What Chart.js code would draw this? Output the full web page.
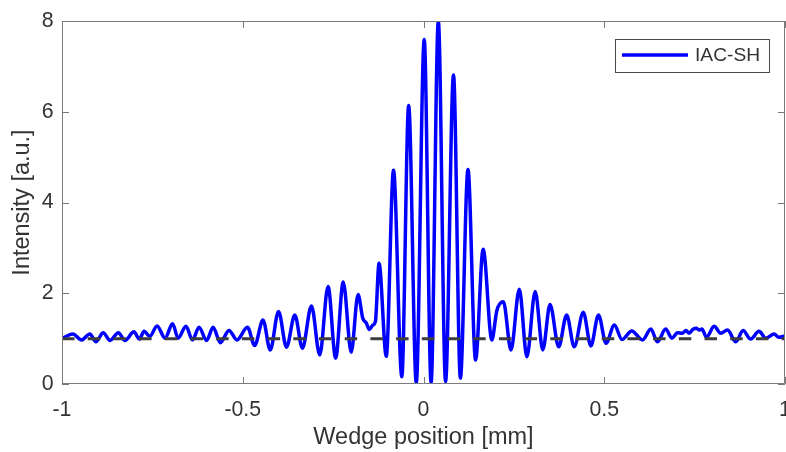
<!DOCTYPE html>
<html>
<head>
<meta charset="utf-8">
<script src="https://cdn.jsdelivr.net/npm/chart.js@4/dist/chart.umd.min.js"></script>
<style>
  html, body { margin: 0; padding: 0; background: #ffffff; }
  #wrap { width: 786px; height: 452px; }
</style>
</head>
<body>
<div id="wrap"><canvas id="c" width="786" height="452"></canvas></div>
<script>
// Wedge position of each turning point of the trace [mm]
const wedgePosition = [
  -1.000, -0.970, -0.946, -0.923, -0.906, -0.886, -0.867, -0.844, -0.826, -0.801,
  -0.786, -0.773, -0.757, -0.737, -0.715, -0.694, -0.679, -0.657, -0.639, -0.621,
  -0.600, -0.582, -0.562, -0.538, -0.516, -0.487, -0.467, -0.444, -0.424, -0.401,
  -0.379, -0.356, -0.335, -0.310, -0.287, -0.264, -0.243, -0.222, -0.200, -0.181,
  -0.168, -0.158, -0.150, -0.140, -0.133, -0.123, -0.103, -0.083, -0.060, -0.041,
  -0.020,  0.002,  0.021,  0.041,  0.061,  0.083,  0.102,  0.123,  0.144,  0.165,
   0.189,  0.203,  0.221,  0.242,  0.265,  0.286,  0.309,  0.330,  0.350,  0.374,
   0.396,  0.417,  0.442,  0.463,  0.484,  0.505,  0.528,  0.549,  0.576,  0.606,
   0.629,  0.647,  0.670,  0.687,  0.703,  0.716,  0.726,  0.735,  0.746,  0.755,
   0.762,  0.770,  0.783,  0.804,  0.822,  0.841,  0.864,  0.884,  0.905,  0.928,
   0.947,  0.970,  0.983,  1.000
];

// Second-harmonic interferometric autocorrelation signal [a.u.]
const iacSignal = [
  1.00, 1.10, 0.97, 1.10, 0.93, 1.13, 0.96, 1.13, 0.96, 1.15,
  0.99, 1.16, 1.05, 1.28, 1.01, 1.33, 1.01, 1.27, 0.97, 1.25,
  0.96, 1.25, 0.91, 1.18, 0.97, 1.25, 0.85, 1.41, 0.75, 1.60,
  0.81, 1.52, 0.79, 1.72, 0.64, 2.15, 0.57, 2.25, 0.70, 1.97,
  1.45, 1.34, 1.20, 1.30, 1.38, 2.66, 0.61, 4.71, 0.16, 6.14,
  0.02, 7.59, 0.02, 8.00, 0.05, 6.81, 0.13, 4.73, 0.53, 2.97,
  0.97, 1.62, 1.81, 0.75, 2.09, 0.60, 2.04, 0.75, 1.75, 0.82,
  1.52, 0.82, 1.58, 0.84, 1.52, 0.90, 1.30, 0.98, 1.17, 0.97,
  1.21, 0.93, 1.21, 1.01, 1.13, 1.12, 1.18, 1.12, 1.21, 1.23,
  1.19, 1.21, 1.03, 1.27, 1.12, 1.19, 0.93, 1.18, 0.99, 1.16,
  1.01, 1.10, 1.03, 1.06
];

// Background level (ratio 1 : 8 reference line)
const baselineX = [-1, 1];
const baselineY = [1, 1];

// Axis tick values
const xTicks = [-1, -0.5, 0, 0.5, 1];
const yTicks = [0, 2, 4, 6, 8];

const seriesName = 'IAC-SH';
const FONT = '"Liberation Sans", Arial, Helvetica, sans-serif';
const TEXT = '#333333';
const FRAME = '#7a7a7a';

const tracePoints = wedgePosition.map((x, i) => ({ x: x, y: iacSignal[i] }));
const basePoints = baselineX.map((x, i) => ({ x: x, y: baselineY[i] }));

// Box around the axes, inward tick marks and the legend box
const axesDecor = {
  id: 'axesDecor',
  afterDatasetsDraw(chart) {
    const ctx = chart.ctx;
    const a = chart.chartArea;
    const sx = chart.scales.x, sy = chart.scales.y;
    const tl = 7;
    ctx.save();
    ctx.strokeStyle = FRAME;
    ctx.lineWidth = 1;
    ctx.beginPath();
    ctx.rect(a.left + 0.5, a.top + 0.5, a.right - a.left - 1, a.bottom - a.top - 1);
    ctx.stroke();
    ctx.beginPath();
    xTicks.forEach(v => {
      const px = Math.round(sx.getPixelForValue(v)) + 0.5;
      ctx.moveTo(px, a.bottom); ctx.lineTo(px, a.bottom - tl);
      ctx.moveTo(px, a.top); ctx.lineTo(px, a.top + tl);
    });
    yTicks.forEach(v => {
      const py = Math.round(sy.getPixelForValue(v)) + 0.5;
      ctx.moveTo(a.left, py); ctx.lineTo(a.left + tl, py);
      ctx.moveTo(a.right, py); ctx.lineTo(a.right - tl, py);
    });
    ctx.stroke();

    // legend
    const bx = 615.5, by = 39.5, bw = 154, bh = 33;
    ctx.fillStyle = '#ffffff';
    ctx.fillRect(bx, by, bw, bh);
    ctx.strokeStyle = '#4a4a4a';
    ctx.lineWidth = 1;
    ctx.strokeRect(bx, by, bw, bh);
    ctx.strokeStyle = '#0000ff';
    ctx.lineWidth = 3.5;
    ctx.beginPath();
    ctx.moveTo(622, 55); ctx.lineTo(688, 55);
    ctx.stroke();
    ctx.fillStyle = TEXT;
    ctx.font = '19.2px ' + FONT;
    ctx.textAlign = 'left';
    ctx.textBaseline = 'middle';
    ctx.fillText(seriesName, 695, 56);
    ctx.restore();
  }
};

new Chart(document.getElementById('c'), {
  type: 'line',
  data: {
    datasets: [
      {
        label: 'baseline',
        data: basePoints,
        borderColor: '#3d3d3d',
        borderWidth: 3,
        borderDash: [12.5, 13.2],
        pointRadius: 0,
        fill: false,
        order: 0
      },
      {
        label: seriesName,
        data: tracePoints,
        borderColor: '#0000ff',
        borderWidth: 3.5,
        pointRadius: 0,
        fill: false,
        cubicInterpolationMode: 'monotone',
        order: 1
      }
    ]
  },
  options: {
    responsive: false,
    animation: false,
    events: [],
    layout: { padding: { top: 21, right: 1, left: 0, bottom: 0 } },
    plugins: { legend: { display: false }, tooltip: { enabled: false } },
    scales: {
      x: {
        type: 'linear',
        min: -1, max: 1,
        afterBuildTicks(s) { s.ticks = xTicks.map(v => ({ value: v })); },
        afterFit(s) { s.height = 68; s.paddingLeft = 0; s.paddingRight = 0; },
        grid: { display: false, drawTicks: false },
        border: { display: false },
        ticks: {
          color: TEXT, padding: 13, maxRotation: 0, autoSkip: false,
          font: { family: FONT, size: 21.3 },
          callback: v => String(v)
        },
        title: {
          display: true, text: 'Wedge position [mm]', color: TEXT,
          font: { family: FONT, size: 23.5, lineHeight: 1.2 },
          padding: { top: 0, bottom: 0 }
        }
      },
      y: {
        type: 'linear',
        min: 0, max: 8,
        afterBuildTicks(s) { s.ticks = yTicks.map(v => ({ value: v })); },
        afterFit(s) { s.width = 62; s.paddingTop = 0; s.paddingBottom = 0; },
        grid: { display: false, drawTicks: false },
        border: { display: false },
        ticks: {
          color: TEXT, padding: 8.5,
          font: { family: FONT, size: 21.3 },
          callback: v => String(v)
        },
        title: {
          display: true, text: 'Intensity [a.u.]', color: TEXT,
          font: { family: FONT, size: 23.5, lineHeight: 1.2 },
          padding: { top: 8, bottom: 0 }
        }
      }
    }
  },
  plugins: [axesDecor]
});
</script>
</body>
</html>
